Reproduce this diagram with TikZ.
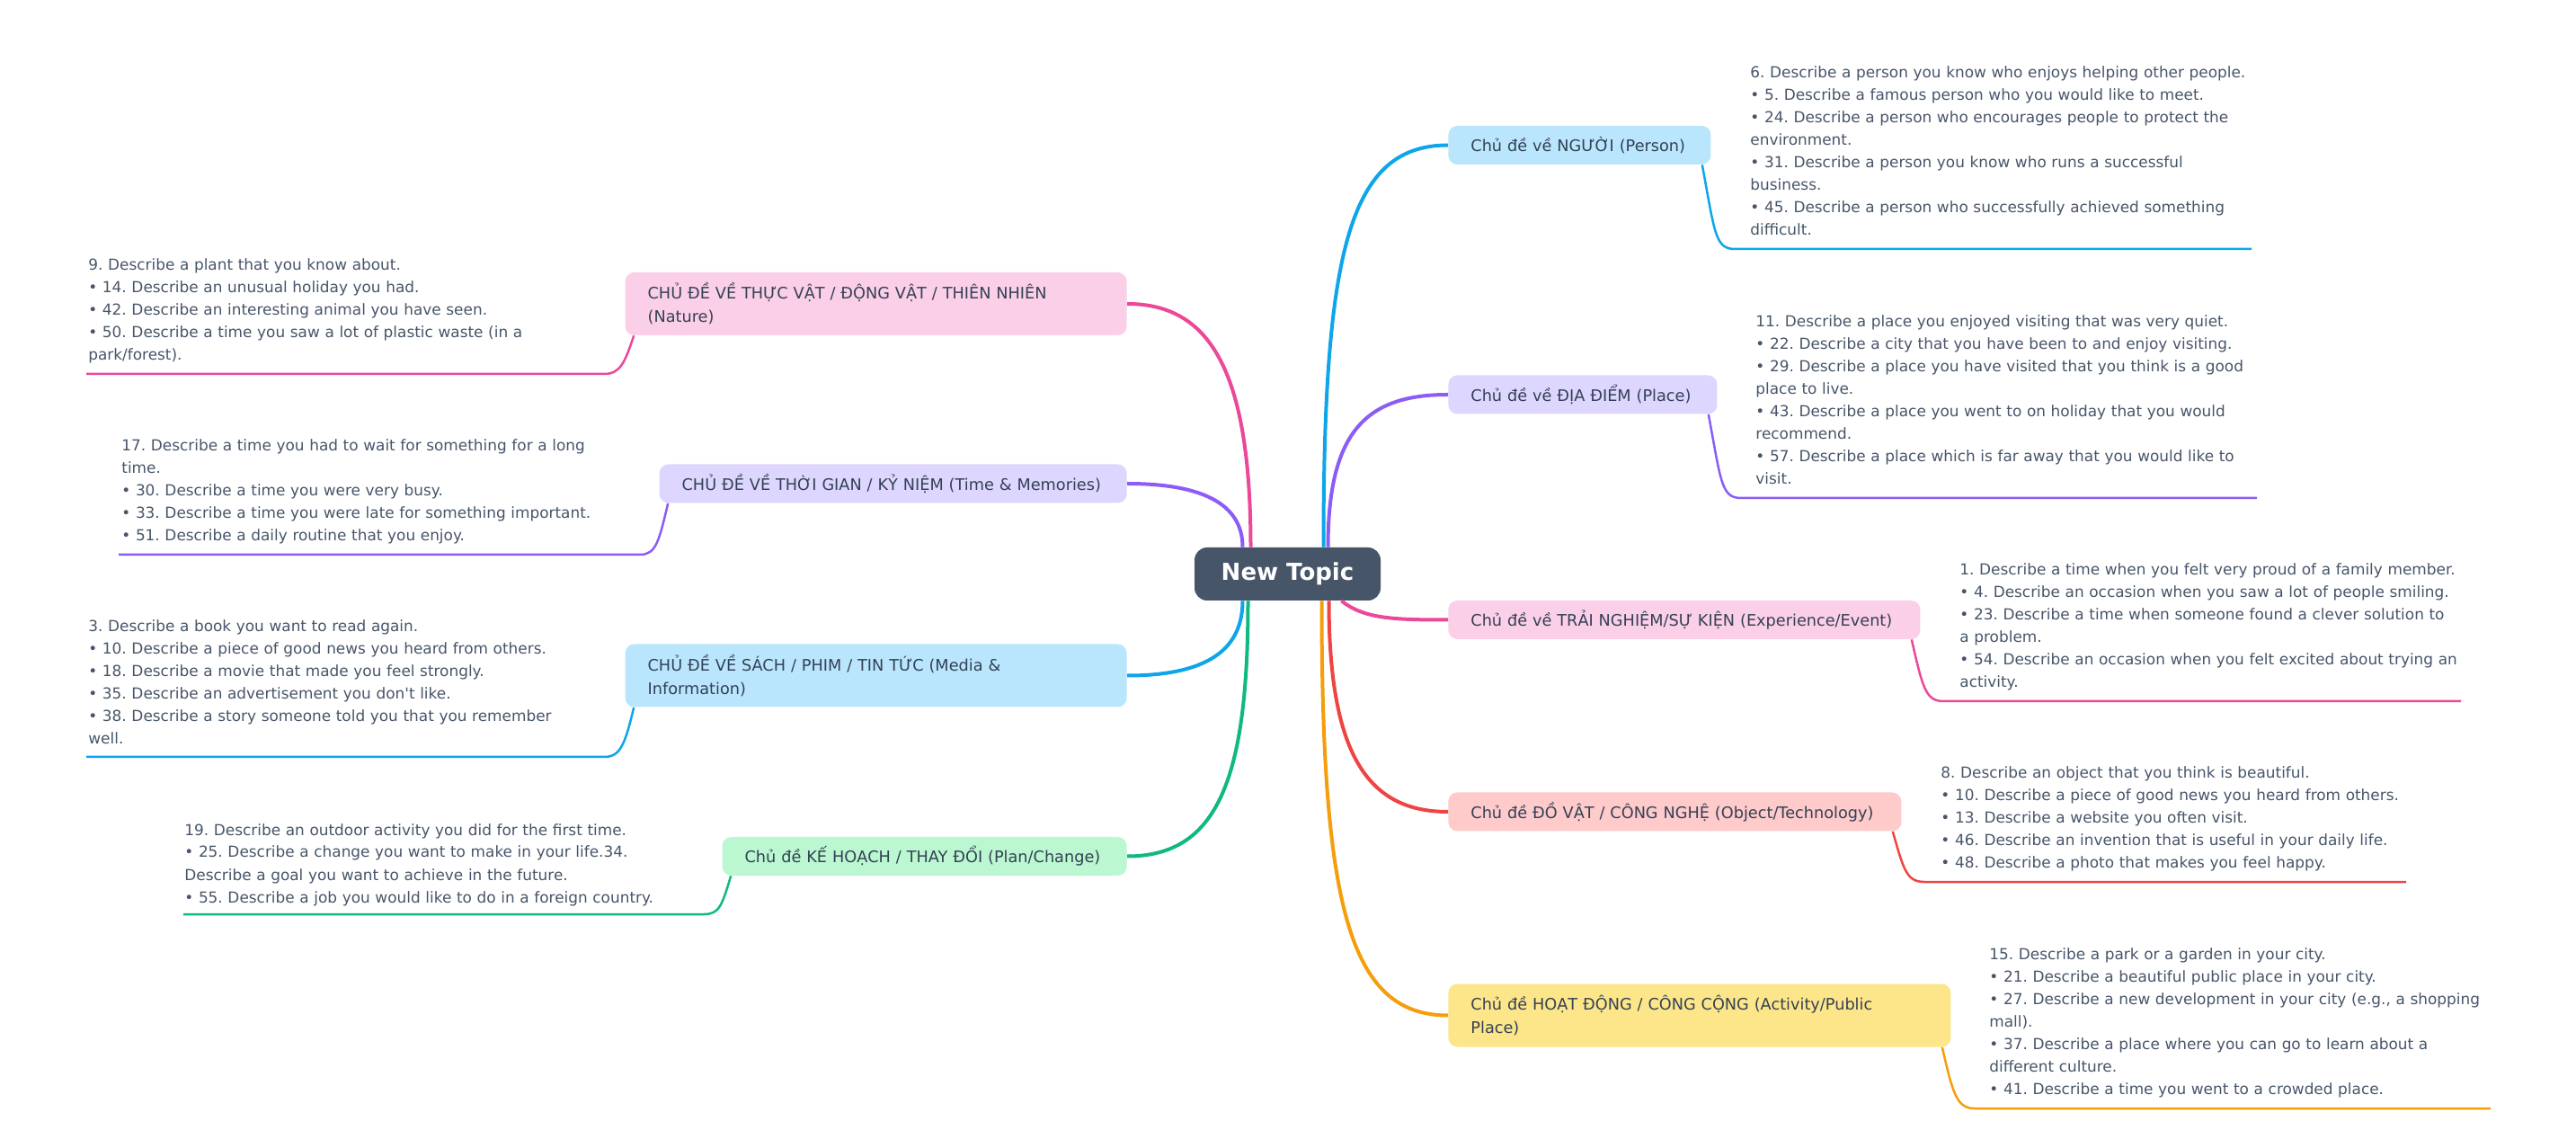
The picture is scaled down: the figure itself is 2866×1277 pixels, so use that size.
\documentclass[tikz,border=0pt]{standalone}
\usepackage{fontspec}
\setmainfont{DejaVu Sans}
\newfontfamily\dvs{DejaVu Sans}
\frenchspacing
\definecolor{rootfill}{HTML}{475569}
\definecolor{leaftext}{HTML}{475569}
\definecolor{branchtext}{HTML}{334155}
\definecolor{csky}{HTML}{0EA5E9}
\definecolor{fsky}{HTML}{BAE6FD}
\definecolor{cviolet}{HTML}{8B5CF6}
\definecolor{fviolet}{HTML}{DDD6FE}
\definecolor{cpink}{HTML}{EC4899}
\definecolor{fpink}{HTML}{FBCFE8}
\definecolor{cred}{HTML}{EF4444}
\definecolor{fred}{HTML}{FECACA}
\definecolor{camber}{HTML}{F59E0B}
\definecolor{famber}{HTML}{FDE68A}
\definecolor{cgreen}{HTML}{10B981}
\definecolor{fgreen}{HTML}{BBF7D0}
\begin{document}
\begin{tikzpicture}[x=0.5pt,y=-0.5pt,
  rootbox/.style={rounded corners=7pt, fill=rootfill, text=white, font=\dvs\bfseries\fontsize{13}{15}\selectfont, minimum width=103.5pt, minimum height=29.5pt, inner sep=0pt},
  branchbox/.style={rounded corners=5pt, inner xsep=12.5pt, inner ysep=0pt, align=left, font=\dvs\fontsize{8.85}{13}\selectfont, text=branchtext, minimum height=21.5pt},
  tallbox/.style={branchbox, minimum height=35pt},
  leaftxt/.style={inner sep=0pt, text width=330pt, align=left, font=\dvs\fontsize{8.45}{12.5}\selectfont, text=leaftext, anchor=base west},
  mainline/.style={line width=2pt},
  leafline/.style={line width=1.25pt}
]
\useasboundingbox (0,0) rectangle (2866,1277);

% root
\node[rootbox] (root) at (1432.5,638.5) {New Topic};

% right branches
\node[branchbox, fill=fsky, text width=121pt, anchor=west] (person) at (1611,161.5) {\mbox{Chủ đề về NGƯỜI (Person)}};
\node[branchbox, fill=fviolet, text width=124.5pt, anchor=west] (place) at (1611,439) {\mbox{Chủ đề về ĐỊA ĐIỂM (Place)}};
\node[branchbox, fill=fpink, text width=237.5pt, anchor=west] (exp) at (1611,689.5) {\mbox{Chủ đề về TRẢI NGHIỆM/SỰ KIỆN (Experience/Event)}};
\node[branchbox, fill=fred, text width=227pt, anchor=west] (obj) at (1611,903) {\mbox{Chủ đề ĐỒ VẬT / CÔNG NGHỆ (Object/Technology)}};
\node[tallbox, fill=famber, text width=254.5pt, anchor=west] (act) at (1611,1129.5) {Chủ đề HOẠT ĐỘNG / CÔNG CỘNG (Activity/Public\\Place)};

% left branches
\node[tallbox, fill=fpink, text width=254pt, anchor=east] (nature) at (1254,338) {CHỦ ĐỀ VỀ THỰC VẬT / ĐỘNG VẬT / THIÊN NHIÊN\\(Nature)};
\node[branchbox, fill=fviolet, text width=235pt, anchor=east] (time) at (1254,538) {\mbox{CHỦ ĐỀ VỀ THỜI GIAN / KỶ NIỆM (Time \& Memories)}};
\node[tallbox, fill=fsky, text width=254pt, anchor=east] (media) at (1254,751.5) {CHỦ ĐỀ VỀ SÁCH / PHIM / TIN TỨC (Media \&\\Information)};
\node[branchbox, fill=fgreen, text width=200pt, anchor=east] (plan) at (1254,952.5) {\mbox{Chủ đề KẾ HOẠCH / THAY ĐỔI (Plan/Change)}};

% leaf texts
\node[leaftxt] (personL) at (1947,87) {6. Describe a person you know who enjoys helping other people.\\• 5. Describe a famous person who you would like to meet.\\• 24. Describe a person who encourages people to protect the\\environment.\\• 31. Describe a person you know who runs a successful\\business.\\• 45. Describe a person who successfully achieved something\\difficult.};
\node[leaftxt] (placeL) at (1953,364) {11. Describe a place you enjoyed visiting that was very quiet.\\• 22. Describe a city that you have been to and enjoy visiting.\\• 29. Describe a place you have visited that you think is a good\\place to live.\\• 43. Describe a place you went to on holiday that you would\\recommend.\\• 57. Describe a place which is far away that you would like to\\visit.};
\node[leaftxt] (expL) at (2180,640) {1. Describe a time when you felt very proud of a family member.\\• 4. Describe an occasion when you saw a lot of people smiling.\\• 23. Describe a time when someone found a clever solution to\\a problem.\\• 54. Describe an occasion when you felt excited about trying an\\activity.};
\node[leaftxt] (objL) at (2159,866) {8. Describe an object that you think is beautiful.\\• 10. Describe a piece of good news you heard from others.\\• 13. Describe a website you often visit.\\• 46. Describe an invention that is useful in your daily life.\\• 48. Describe a photo that makes you feel happy.};
\node[leaftxt] (actL) at (2213,1067) {15. Describe a park or a garden in your city.\\• 21. Describe a beautiful public place in your city.\\• 27. Describe a new development in your city (e.g., a shopping\\mall).\\• 37. Describe a place where you can go to learn about a\\different culture.\\• 41. Describe a time you went to a crowded place.};
\node[leaftxt] (natureL) at (98,301) {9. Describe a plant that you know about.\\• 14. Describe an unusual holiday you had.\\• 42. Describe an interesting animal you have seen.\\• 50. Describe a time you saw a lot of plastic waste (in a\\park/forest).};
\node[leaftxt] (timeL) at (135,502) {17. Describe a time you had to wait for something for a long\\time.\\• 30. Describe a time you were very busy.\\• 33. Describe a time you were late for something important.\\• 51. Describe a daily routine that you enjoy.};
\node[leaftxt] (mediaL) at (98,703) {3. Describe a book you want to read again.\\• 10. Describe a piece of good news you heard from others.\\• 18. Describe a movie that made you feel strongly.\\• 35. Describe an advertisement you don't like.\\• 38. Describe a story someone told you that you remember\\well.};
\node[leaftxt] (planL) at (205,929) {19. Describe an outdoor activity you did for the first time.\\• 25. Describe a change you want to make in your life.34.\\Describe a goal you want to achieve in the future.\\• 55. Describe a job you would like to do in a foreign country.};

% main connectors
\draw[mainline, csky] ([xshift=20pt]root.north) .. controls +(0,-330) and +(-110,0) .. (person.west);
\draw[mainline, cviolet] ([xshift=22.5pt]root.north) .. controls +(0,-130) and +(-90,0) .. (place.west);
\draw[mainline, cpink] ([xshift=30pt]root.south) .. controls +(25,20) and +(-60,0) .. (exp.west);
\draw[mainline, cred] ([xshift=23pt]root.south) .. controls +(0,170) and +(-90,0) .. (obj.west);
\draw[mainline, camber] ([xshift=19pt]root.south) .. controls +(0,340) and +(-110,0) .. (act.west);
\draw[mainline, cpink] ([xshift=-20.5pt]root.north) .. controls +(0,-200) and +(90,0) .. (nature.east);
\draw[mainline, cviolet] ([xshift=-25pt]root.north) .. controls +(0,-50) and +(80,0) .. (time.east);
\draw[mainline, csky] ([xshift=-25pt]root.south) .. controls +(0,60) and +(80,0) .. (media.east);
\draw[mainline, cgreen] ([xshift=-22pt]root.south) .. controls +(0,200) and +(100,0) .. (plan.east);

% leaf connector points
\coordinate (personK) at (1930,277); \coordinate (personE) at (2505,277);
\coordinate (placeK) at (1937,554); \coordinate (placeE) at (2511,554);
\coordinate (expK) at (2162,780); \coordinate (expE) at (2738,780);
\coordinate (objK) at (2141,981); \coordinate (objE) at (2677,981);
\coordinate (actK) at (2197,1233); \coordinate (actE) at (2771,1233);
\coordinate (natureK) at (672,416); \coordinate (natureE) at (96,416);
\coordinate (timeK) at (712,617); \coordinate (timeE) at (132,617);
\coordinate (mediaK) at (672,842); \coordinate (mediaE) at (96,842);
\coordinate (planK) at (783,1017); \coordinate (planE) at (204,1017);

% leaf connectors
\draw[leafline, csky] ([xshift=-5pt]person.south east) .. controls +(14,75) and +(-22,0) .. (personK) -- (personE);
\draw[leafline, cviolet] ([xshift=-5pt]place.south east) .. controls +(14,75) and +(-22,0) .. (placeK) -- (placeE);
\draw[leafline, cpink] ([xshift=-5pt]exp.south east) .. controls +(12,52) and +(-20,0) .. (expK) -- (expE);
\draw[leafline, cred] ([xshift=-5pt]obj.south east) .. controls +(12,42) and +(-20,0) .. (objK) -- (objE);
\draw[leafline, camber] ([xshift=-5pt]act.south east) .. controls +(12,52) and +(-20,0) .. (actK) -- (actE);
\draw[leafline, cpink] ([xshift=5pt]nature.south west) .. controls +(-10,30) and +(18,0) .. (natureK) -- (natureE);
\draw[leafline, cviolet] ([xshift=5pt]time.south west) .. controls +(-10,42) and +(18,0) .. (timeK) -- (timeE);
\draw[leafline, csky] ([xshift=5pt]media.south west) .. controls +(-10,42) and +(18,0) .. (mediaK) -- (mediaE);
\draw[leafline, cgreen] ([xshift=5pt]plan.south west) .. controls +(-10,32) and +(18,0) .. (planK) -- (planE);
\end{tikzpicture}
\end{document}
